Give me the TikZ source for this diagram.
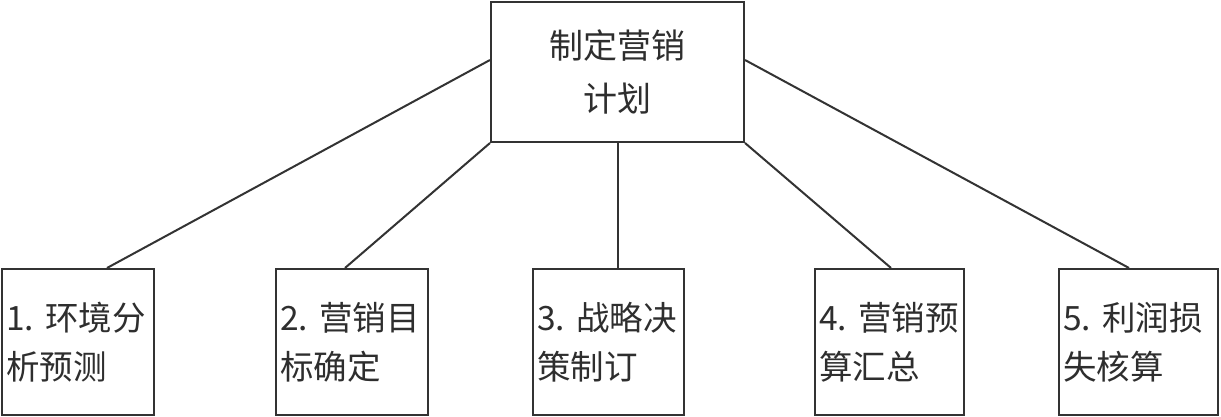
\documentclass[tikz,border=0pt]{standalone}
\usepackage{fontspec}
\setmainfont{Noto Sans CJK SC}
\usepackage{tikz}
\definecolor{lgrey}{HTML}{333333}
\definecolor{tgrey}{HTML}{2E2E2E}

\begin{document}
\begin{tikzpicture}[
  x=1pt,y=1pt,
  every node/.style={font=\fontsize{34}{53}\selectfont,text=tgrey},
  topbox/.style={draw=lgrey,line width=2pt,minimum width=253pt,minimum height=140pt,align=center,inner sep=0pt},
  stepbox/.style={draw=lgrey,line width=2pt,minimum height=146pt,align=left,inner sep=0pt,
    text width=#1-8pt,minimum width=#1,font=\fontsize{33.5}{49}\selectfont},
  link/.style={lgrey,line width=2pt}
]
\useasboundingbox (0,0) rectangle (1221,417);
\node[topbox] (plan) at (617.5,345) {制定营销\\计划};
\node[stepbox=152pt] (env) at (78,75) {1.\ 环境分\\析预测};
\node[stepbox=152pt] (goal) at (352,75) {2.\ 营销目\\标确定};
\node[stepbox=151pt] (strat) at (608.5,75) {3.\ 战略决\\策制订};
\node[stepbox=149pt] (budget) at (889.5,75) {4.\ 营销预\\算汇总};
\node[stepbox=159pt] (profit) at (1138.5,75) {5.\ 利润损\\失核算};

\draw[link] ([yshift=12pt]plan.west) -- ([xshift=29pt]env.north);
\draw[link] (plan.south west) -- ([xshift=-7pt]goal.north);
\draw[link] (plan.south) -- (plan.south |- strat.north);
\draw[link] (plan.south east) -- ([xshift=1.5pt]budget.north);
\draw[link] ([yshift=12pt]plan.east) -- ([xshift=-9.5pt]profit.north);
\end{tikzpicture}
\end{document}
